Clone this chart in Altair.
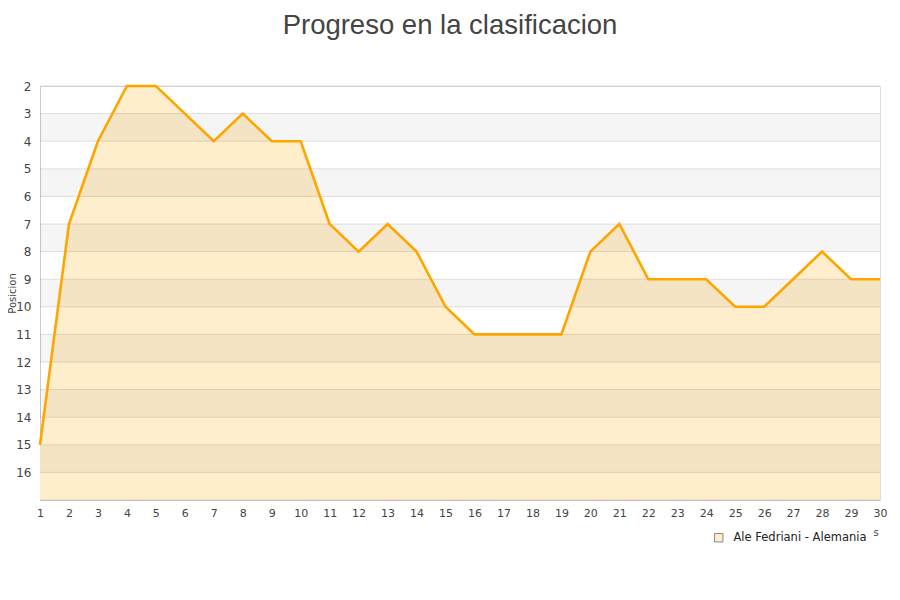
import altair as alt
import pandas as pd

jornadas = list(range(1, 31))
posiciones = [15, 7, 4, 2, 2, 3, 4, 3, 4, 4, 7, 8, 7, 8, 10, 11, 11, 11, 11, 8, 7, 9, 9, 9, 10, 10, 9, 8, 9, 9]
serie = "Ale Fedriani - Alemania"
band_lo = [3, 5, 7, 9, 11, 13, 15]
band_hi = [4, 6, 8, 10, 12, 14, 16]
grid_vals = list(range(2, 18))
y_ticks = list(range(2, 17))

df = pd.DataFrame({"j": jornadas, "p": posiciones, "s": [serie] * len(jornadas)})
bands = pd.DataFrame({"lo": band_lo, "hi": band_hi})
grid = pd.DataFrame({"g": grid_vals})

xs = alt.Scale(domain=[1, 30], nice=False, zero=False)
ys = alt.Scale(domain=[2, 17], reverse=True, nice=False, zero=False)

xaxis = alt.Axis(values=jornadas, grid=False, ticks=False, labelPadding=7, labelFontSize=11,
                 labelColor="#444", labelFont="DejaVu Sans", domainColor="#cccccc",
                 labelOverlap=False, labelFlush=False,
                 title="s", titleFontSize=10, titleFontWeight="normal", titleColor="#444",
                 titleFont="DejaVu Sans", titleX=833, titleY=32, titleAnchor="start",
                 titleBaseline="middle")
yaxis = alt.Axis(values=y_ticks, grid=False, ticks=False, labelPadding=9, labelFontSize=12,
                 labelColor="#444", labelFont="DejaVu Sans", domainColor="#cccccc",
                 labelOverlap=False, labelFlush=False,
                 title="Posicion", titleFontSize=10, titleFontWeight="normal", titleColor="#444",
                 titleFont="DejaVu Sans", titleX=-28, titleY=207, titleAngle=270,
                 titleBaseline="middle", titleAlign="center")

area = alt.Chart(df).mark_area(opacity=1).encode(
    x=alt.X("j:Q", scale=xs, axis=xaxis),
    y=alt.Y("p:Q", scale=ys, axis=yaxis),
    y2=alt.datum(17),
    color=alt.Color("s:N", scale=alt.Scale(range=["#ffeecc"]),
                    legend=alt.Legend(title=None, orient="none", legendX=673, legendY=446,
                                      symbolType="square", symbolSize=70,
                                      symbolFillColor="#f7e3c3", symbolStrokeColor="#888888",
                                      symbolStrokeWidth=1, labelFontSize=11.5, labelColor="#222",
                                      labelFont="DejaVu Sans", symbolOpacity=1, labelOffset=9)),
)

band_layer = alt.Chart(bands).mark_rect(color="black", opacity=0.04).encode(
    y=alt.Y("lo:Q", scale=ys, axis=yaxis), y2="hi:Q",
    x=alt.value(0), x2=alt.value(840),
)

grid_layer = alt.Chart(grid).mark_rule(color="black", opacity=0.11, strokeWidth=1).encode(
    y=alt.Y("g:Q", scale=ys, axis=yaxis), x=alt.value(0), x2=alt.value(840),
)

line = alt.Chart(df).mark_line(color="#ffa500", strokeWidth=2.6).encode(
    x=alt.X("j:Q", scale=xs, axis=xaxis), y=alt.Y("p:Q", scale=ys, axis=yaxis),
)

chart = alt.layer(area, band_layer, grid_layer, line).properties(
    width=840, height=414,
    autosize=alt.AutoSizeParams(type="none"),
    padding={"left": 32, "top": 78, "right": 12, "bottom": 80},
    title=alt.TitleParams("Progreso en la clasificacion", fontSize=27.5, font="Liberation Sans",
                          fontWeight="normal", color="#444", anchor="middle", dx=-10, offset=41),
    background="white",
).configure_view(stroke="#dddddd")

chart.save("out.html", embed_options={"renderer": "svg", "actions": False})
